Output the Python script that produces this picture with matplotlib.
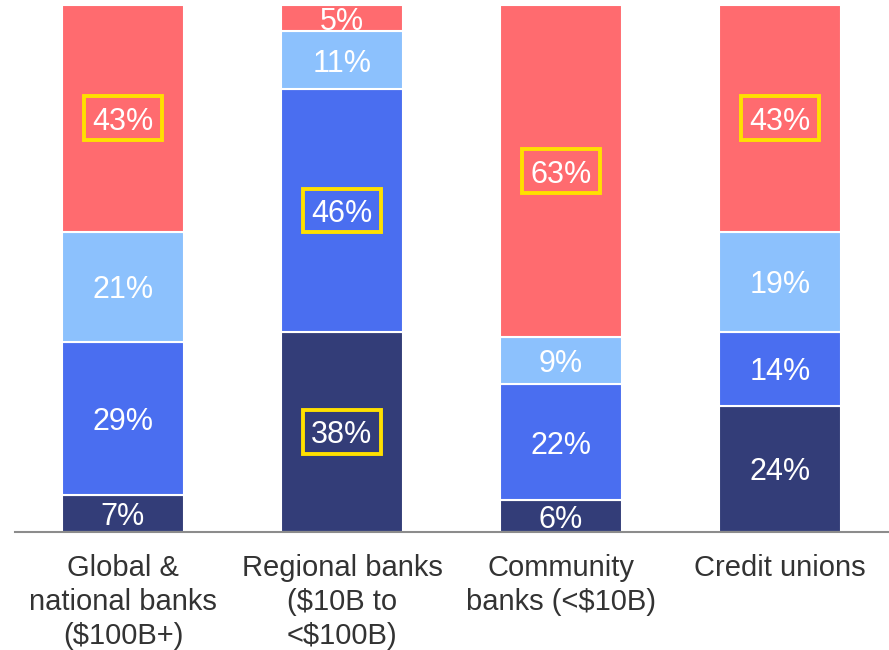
import matplotlib.pyplot as plt
from matplotlib.patches import Rectangle
import numpy as np

plt.rcParams["font.family"] = ["Liberation Sans", "DejaVu Sans"]

categories = ["Global &\nnational banks\n($100B+)", "Regional banks\n($10B to\n<$100B)",
              "Community\nbanks (<$10B)", "Credit unions"]
# stacked bottom -> top
seg_navy = [7, 38, 6, 24]
seg_blue = [29, 46, 22, 14]
seg_light = [21, 11, 9, 19]
seg_red = [43, 5, 63, 43]
# which labels get the yellow highlight box (per segment, per bar)
highlight_navy = [False, True, False, False]
highlight_blue = [False, True, False, False]
highlight_light = [False, False, False, False]
highlight_red = [True, False, True, True]

colors = ["#333D78", "#4A6EF0", "#8CC1FD", "#FF6B6F"]

fig = plt.figure(figsize=(8.89, 6.5), dpi=100)
ax = fig.add_axes([15 / 889, 118 / 650, 874 / 889, 527 / 650])

x = np.arange(len(categories))
bottom = np.zeros(len(categories))
segments = [seg_navy, seg_blue, seg_light, seg_red]
highlights = [highlight_navy, highlight_blue, highlight_light, highlight_red]
box_w, box_h = 0.36, 8.3
for vals, col, hl in zip(segments, colors, highlights):
    vals = np.array(vals, dtype=float)
    ax.bar(x, vals, bottom=bottom, width=0.557, color=col, edgecolor="white", linewidth=1.5)
    for xi, b, v, h in zip(x, bottom, vals, hl):
        yc = b + v / 2
        ax.text(xi, yc, f"{int(v)}%", ha="center", va="center_baseline",
                color="white", fontsize=22)
        if h:
            ax.add_patch(Rectangle((xi - box_w / 2, yc - box_h / 2), box_w, box_h,
                                   facecolor="none", edgecolor="#FFE000",
                                   linewidth=2.8, zorder=5))
    bottom += vals

ax.set_xlim(-0.493, 3.498)
ax.set_ylim(0, 100)
for s in ["top", "right", "left"]:
    ax.spines[s].set_visible(False)
ax.spines["bottom"].set_color("#8C8C8C")
ax.spines["bottom"].set_linewidth(1.5)
ax.set_yticks([])
ax.set_xticks(x)
ax.set_xticklabels(categories, fontsize=21, color="#333333", linespacing=1.27)
ax.tick_params(axis="x", length=0, pad=16)

fig.savefig("out.png", dpi=100)
